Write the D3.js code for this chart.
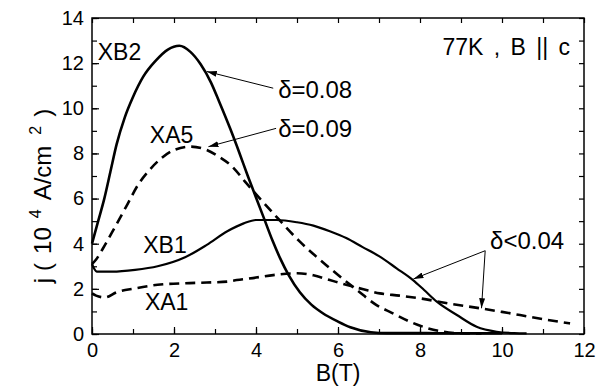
<!DOCTYPE html>
<html>
<head>
<meta charset="utf-8">
<script src="https://cdn.jsdelivr.net/npm/d3@7"></script>
<style>
  body { margin: 0; background: #fff; }
  text { font-family: "Liberation Sans", Arial, Helvetica, sans-serif; fill: #000; }
</style>
</head>
<body>
<svg id="chart" width="606" height="387"></svg>
<script>
// tick values
const xTicks = [0, 2, 4, 6, 8, 10, 12];
const yTicks = [0, 2, 4, 6, 8, 10, 12, 14];

// curves, [B (T), j (10^4 A/cm^2)]
const xb2 = [[0,4.0],[0.15,5.0],[0.3,6.0],[0.45,7.2],[0.6,8.4],[0.8,9.6],[1.0,10.5],[1.25,11.4],
  [1.55,12.1],[1.85,12.6],[2.13,12.77],[2.4,12.5],[2.65,11.95],[2.9,11.15],[3.1,10.3],[3.37,9.1],
  [3.6,8.0],[3.8,7.0],[4.0,6.05],[4.2,5.1],[4.4,4.15],[4.59,3.35],[4.8,2.6],[5.07,1.85],[5.35,1.3],
  [5.63,0.92],[6.0,0.55],[6.3,0.3],[6.8,0.08],[7.2,0.04],[8,0.04],[9,0.03],[10,0.03]];
const xa5 = [[0,3.1],[0.1,3.3],[0.27,3.8],[0.56,4.74],[0.88,5.8],[1.12,6.6],[1.37,7.2],[1.7,7.8],
  [2.0,8.15],[2.4,8.3],[2.8,8.15],[3.1,7.85],[3.4,7.45],[3.77,6.67],[4.42,5.35],[5.07,4.09],
  [5.8,2.92],[6.46,1.95],[6.94,1.28],[7.3,0.95],[7.76,0.54],[8.2,0.25],[8.56,0.1],[9.0,0.03],[9.5,0.02]];
const xb1 = [[0,3.1],[0.05,2.9],[0.12,2.76],[0.5,2.76],[1.05,2.84],[1.6,3.0],[2.27,3.4],[2.8,3.95],
  [3.3,4.55],[3.7,4.9],[4.0,5.05],[4.5,5.05],[5.0,4.95],[5.4,4.8],[5.8,4.55],[6.2,4.25],[6.6,3.85],
  [7.0,3.45],[7.43,2.91],[7.83,2.39],[8.1,1.95],[8.41,1.43],[8.9,0.84],[9.38,0.32],[9.87,0.1],
  [10.3,0.04],[10.6,0.03]];
const xa1 = [[0,1.8],[0.1,1.7],[0.32,1.62],[0.6,1.85],[1.05,2.02],[1.6,2.18],[2.27,2.25],[2.8,2.28],
  [3.3,2.32],[3.53,2.39],[4.0,2.5],[4.42,2.61],[5.0,2.69],[5.4,2.6],[5.8,2.39],[6.2,2.18],
  [6.62,1.98],[7.02,1.8],[7.5,1.7],[8.0,1.58],[8.7,1.35],[9.46,1.14],[10.0,0.98],[10.44,0.84],
  [11.0,0.66],[11.66,0.47]];

// curve names and where their labels sit (data units)
const curveLabels = [
  { text: "XB2", b: 0.14, j: 12.14 },
  { text: "XA5", b: 1.41, j: 8.45 },
  { text: "XB1", b: 1.25, j: 3.58 },
  { text: "XA1", b: 1.29, j: 1.06 }
];
// delta annotations and their arrows
const notes = [
  { text: "\u03b4=0.08", b: 4.54, j: 10.44 },
  { text: "\u03b4=0.09", b: 4.54, j: 8.74 },
  { text: "\u03b4<0.04", b: 9.71, j: 3.75 }
];
const arrows = [
  [[4.42, 10.89], [2.80, 11.63]],
  [[4.49, 9.11], [2.84, 8.30]],
  [[9.59, 3.69], [7.84, 2.44]],
  [[9.59, 3.69], [9.50, 1.14]]
];

const svg = d3.select("#chart");
const x = d3.scaleLinear().domain([0, 12]).range([92, 584]);
const y = d3.scaleLinear().domain([0, 14]).range([334, 18]);

// frame
svg.append("rect")
  .attr("x", x(0)).attr("y", y(14))
  .attr("width", x(12) - x(0)).attr("height", y(0) - y(14))
  .attr("fill", "none").attr("stroke", "#000").attr("stroke-width", 1.5);

// minor ticks every 1 unit, all four sides, pointing in
const minorX = d3.range(0, 13), minorY = d3.range(0, 15);
function ticks(axis, tr) {
  const g = svg.append("g").attr("transform", tr).call(axis);
  g.select(".domain").remove();
  g.attr("font-family", null).attr("font-size", null);
  g.selectAll(".tick line").attr("stroke", "#000").attr("stroke-width", 1.2);
  return g;
}
ticks(d3.axisBottom(x).tickValues(minorX).tickSize(-5).tickFormat(""), `translate(0,${y(0)})`);
ticks(d3.axisTop(x).tickValues(minorX).tickSize(-5).tickFormat(""), `translate(0,${y(14)})`);
ticks(d3.axisLeft(y).tickValues(minorY).tickSize(-5).tickFormat(""), `translate(${x(0)},0)`);
ticks(d3.axisRight(y).tickValues(minorY).tickSize(-5).tickFormat(""), `translate(${x(12)},0)`);

// labelled ticks
const gx = ticks(d3.axisBottom(x).tickValues(xTicks).tickSize(-7).tickPadding(9), `translate(0,${y(0)})`);
gx.selectAll("text").style("font-size", "20px");
const gy = ticks(d3.axisLeft(y).tickValues(yTicks).tickSize(-7).tickPadding(8), `translate(${x(0)},0)`);
gy.selectAll("text").style("font-size", "20px");

// axis titles
svg.append("text")
  .attr("x", x(6)).attr("y", y(0) + 47)
  .attr("text-anchor", "middle").style("font-size", "23px")
  .text("B(T)");
const yl = svg.append("text")
  .attr("transform", `translate(51,${(y(0) + y(14)) / 2 + 20}) rotate(-90)`)
  .attr("text-anchor", "middle").style("font-size", "24px");
yl.append("tspan").text("j");
yl.append("tspan").attr("dx", 7).text("(");
yl.append("tspan").attr("dx", 9).text("10");
yl.append("tspan").attr("dx", 9).attr("dy", -10).style("font-size", "16px").text("4");
yl.append("tspan").attr("dx", 9).attr("dy", 10).text("A/cm");
yl.append("tspan").attr("dx", 11).attr("dy", -10).style("font-size", "16px").text("2");
yl.append("tspan").attr("dx", 9).attr("dy", 10).text(")");

// curves
const line = d3.line().x(d => x(d[0])).y(d => y(d[1])).curve(d3.curveMonotoneX);
const series = [
  { data: xb2, width: 2.6, dash: null },
  { data: xa5, width: 2.6, dash: "10,6" },
  { data: xb1, width: 2.2, dash: null },
  { data: xa1, width: 2.6, dash: "10,6" }
];
svg.append("g").selectAll("path")
  .data(series)
  .enter()
  .append("path")
  .attr("d", d => line(d.data))
  .attr("fill", "none")
  .attr("stroke", "#000")
  .attr("stroke-width", d => d.width)
  .attr("stroke-dasharray", d => d.dash)
  .attr("stroke-linejoin", "round");

// labels
svg.append("g").selectAll("text")
  .data(curveLabels)
  .enter()
  .append("text")
  .attr("x", d => x(d.b))
  .attr("y", d => y(d.j))
  .style("font-size", "23px")
  .text(d => d.text);

svg.append("g").selectAll("text")
  .data(notes)
  .enter()
  .append("text")
  .attr("x", d => x(d.b))
  .attr("y", d => y(d.j))
  .style("font-size", "24px")
  .text(d => d.text);

svg.append("text")
  .attr("x", x(11.66)).attr("y", y(12.36))
  .attr("text-anchor", "end").style("font-size", "23px")
  .style("word-spacing", "4px")
  .text("77K , B || c");

// arrows
svg.append("defs").append("marker")
  .attr("id", "head")
  .attr("viewBox", "0 0 10 6")
  .attr("refX", 10).attr("refY", 3)
  .attr("markerWidth", 10).attr("markerHeight", 6)
  .attr("markerUnits", "userSpaceOnUse")
  .attr("orient", "auto")
  .append("path")
  .attr("d", "M0,0L10,3L0,6Z")
  .attr("fill", "#000");

svg.append("g").selectAll("line")
  .data(arrows)
  .enter()
  .append("line")
  .attr("x1", d => x(d[0][0])).attr("y1", d => y(d[0][1]))
  .attr("x2", d => x(d[1][0])).attr("y2", d => y(d[1][1]))
  .attr("stroke", "#000").attr("stroke-width", 1)
  .attr("marker-end", "url(#head)");
</script>
</body>
</html>
